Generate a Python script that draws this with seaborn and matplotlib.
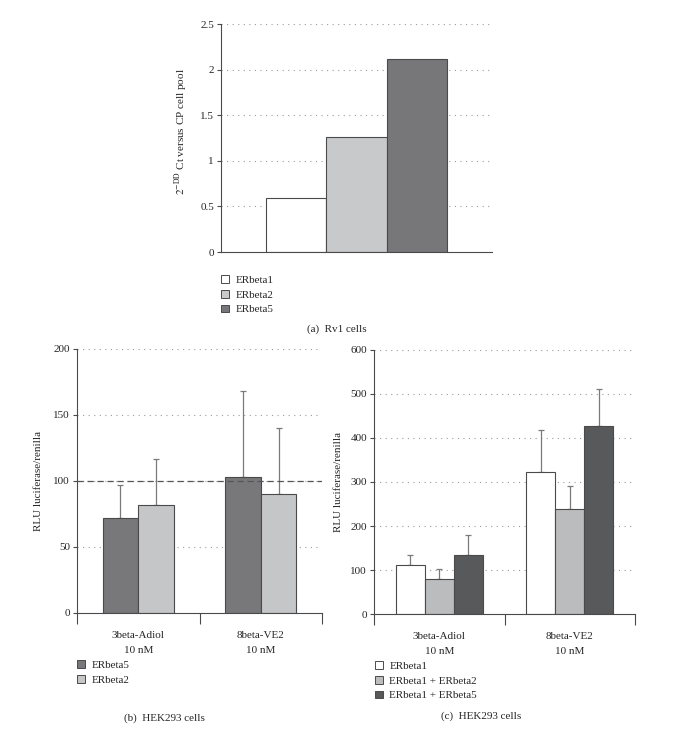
import matplotlib
matplotlib.use("Agg")
import matplotlib.pyplot as plt
from matplotlib.patches import Patch
import numpy as np
import pandas as pd
import seaborn as sns

# ---- data ----
rv1_labels = ["ERbeta1", "ERbeta2", "ERbeta5"]
rv1_values = [0.59, 1.26, 2.12]
rv1_yticks = [0, 0.5, 1, 1.5, 2, 2.5]
rv1_yticklabels = ["0", "0.5", "1", "1.5", "2", "2.5"]

treatments = ["3beta-Adiol\n10 nM", "8beta-VE2\n10 nM"]

hek_b_labels = ["ERbeta5", "ERbeta2"]
hek_b_values = {"ERbeta5": [72, 103], "ERbeta2": [82, 90]}
hek_b_errors = {"ERbeta5": [25, 65], "ERbeta2": [35, 50]}
hek_b_yticks = [0, 50, 100, 150, 200]

hek_c_labels = ["ERbeta1", "ERbeta1 + ERbeta2", "ERbeta1 + ERbeta5"]
hek_c_values = {"ERbeta1": [112, 322], "ERbeta1 + ERbeta2": [80, 238],
                "ERbeta1 + ERbeta5": [135, 427]}
hek_c_errors = {"ERbeta1": [23, 96], "ERbeta1 + ERbeta2": [22, 53],
                "ERbeta1 + ERbeta5": [45, 84]}
hek_c_yticks = [0, 100, 200, 300, 400, 500, 600]

# ---- style ----
sns.set_style("ticks")
plt.rcParams['font.family'] = ['Liberation Serif', 'DejaVu Serif']
plt.rcParams['mathtext.fontset'] = 'stix'
plt.rcParams['font.size'] = 8
EDGE = '#4a4a4a'
GRID = '#9a9a9a'
FS = 8

pal_a = {"ERbeta1": "#ffffff", "ERbeta2": "#c8c9cb", "ERbeta5": "#76777b"}
pal_b = {"ERbeta5": "#77787c", "ERbeta2": "#c5c6c8"}
pal_c = {"ERbeta1": "#ffffff", "ERbeta1 + ERbeta2": "#bbbcbe",
         "ERbeta1 + ERbeta5": "#58595b"}


def style_axis(ax, yticks, yticklabels=None):
    ax.set_yticks(yticks)
    if yticklabels is not None:
        ax.set_yticklabels(yticklabels)
    ax.set_ylim(yticks[0], yticks[-1])
    for y in yticks[1:]:
        ax.axhline(y, color=GRID, lw=0.8, ls=(0, (1, 4)), zorder=0)
    for s in ['top', 'right']:
        ax.spines[s].set_visible(False)
    for s in ['left', 'bottom']:
        ax.spines[s].set_color(EDGE)
        ax.spines[s].set_linewidth(0.8)
    ax.tick_params(axis='y', length=3, width=0.8, color=EDGE, labelsize=FS, pad=2)


def add_errors(ax, labels, errors):
    # upper-only error bars on top of each hue container
    for lab, cont in zip(labels, ax.containers):
        xs = [p.get_x() + p.get_width() / 2 for p in cont.patches]
        hs = [p.get_height() for p in cont.patches]
        err = errors[lab]
        ax.errorbar(xs, hs, yerr=[np.zeros(len(err)), err], fmt='none',
                    ecolor='#7a7a7a', elinewidth=0.9, capsize=2, capthick=0.9, zorder=1)


def group_xaxis(ax):
    ax.set_xlim(-0.5, 1.5)
    ax.set_xticks([-0.5, 0.5, 1.5], minor=True)
    ax.tick_params(axis='x', which='major', length=0, pad=13, labelsize=FS)
    ax.tick_params(axis='x', which='minor', length=8, width=0.8, color=EDGE)
    for t in ax.get_xticklabels():
        t.set_linespacing(1.85)
    ax.set_xlabel("")


def legend(fig, labels, pal, x, y):
    handles = [Patch(facecolor=pal[l], edgecolor=EDGE, lw=0.7) for l in labels]
    fig.legend(handles, labels, loc='upper left', bbox_to_anchor=(x, y),
               frameon=False, fontsize=FS, handlelength=0.7, handleheight=0.7,
               handletextpad=0.6, labelspacing=0.45, borderpad=0, borderaxespad=0)


W, H = 699, 730
fig = plt.figure(figsize=(W / 100, H / 100), dpi=100)

# ---- (a) Rv1 cells ----
ax_a = fig.add_axes([221 / W, 1 - 252 / H, 271 / W, 228 / H])
df_a = pd.DataFrame({"cell": ["Rv1"] * 3, "receptor": rv1_labels, "value": rv1_values})
sns.barplot(data=df_a, x="cell", y="value", hue="receptor", palette=pal_a,
            edgecolor=EDGE, linewidth=0.8, width=0.8, legend=False, ax=ax_a, zorder=2)
ax_a.set_xlim(-0.6, 0.6)
ax_a.set_xticks([])
ax_a.set_xlabel("")
style_axis(ax_a, rv1_yticks, rv1_yticklabels)
ax_a.set_ylabel(r"$2^{-\mathrm{DD}}$ Ct versus CP cell pool", fontsize=FS)
ax_a.yaxis.set_label_coords(-0.115, 0.53)
legend(fig, rv1_labels, pal_a, 221 / W, 1 - 275 / H)
fig.text(337 / W, 1 - 329 / H, "(a)  Rv1 cells", ha='center', va='center', fontsize=FS)

# ---- (b) HEK293 cells ----
ax_b = fig.add_axes([77 / W, 1 - 613 / H, 245 / W, 264 / H])
df_b = pd.DataFrame([(t, l, hek_b_values[l][i]) for l in hek_b_labels
                     for i, t in enumerate(treatments)],
                    columns=["treatment", "receptor", "value"])
sns.barplot(data=df_b, x="treatment", y="value", hue="receptor", hue_order=hek_b_labels,
            palette=pal_b, edgecolor=EDGE, linewidth=0.8, width=0.58, legend=False,
            ax=ax_b, zorder=2)
add_errors(ax_b, hek_b_labels, hek_b_errors)
style_axis(ax_b, hek_b_yticks)
ax_b.axhline(100, color='#555555', lw=0.9, ls=(0, (5, 3)), zorder=3)
group_xaxis(ax_b)
ax_b.set_ylabel("RLU luciferase/renilla", fontsize=FS)
ax_b.yaxis.set_label_coords(-0.14, 0.5)
legend(fig, hek_b_labels, pal_b, 77 / W, 1 - 660 / H)
fig.text(164 / W, 1 - 718 / H, "(b)  HEK293 cells", ha='center', va='center', fontsize=FS)

# ---- (c) HEK293 cells ----
ax_c = fig.add_axes([374 / W, 1 - 614 / H, 261 / W, 264 / H])
df_c = pd.DataFrame([(t, l, hek_c_values[l][i]) for l in hek_c_labels
                     for i, t in enumerate(treatments)],
                    columns=["treatment", "receptor", "value"])
sns.barplot(data=df_c, x="treatment", y="value", hue="receptor", hue_order=hek_c_labels,
            palette=pal_c, edgecolor=EDGE, linewidth=0.8, width=0.67, legend=False,
            ax=ax_c, zorder=2)
add_errors(ax_c, hek_c_labels, hek_c_errors)
style_axis(ax_c, hek_c_yticks)
group_xaxis(ax_c)
ax_c.set_ylabel("RLU luciferase/renilla", fontsize=FS)
ax_c.yaxis.set_label_coords(-0.12, 0.5)
legend(fig, hek_c_labels, pal_c, 375 / W, 1 - 661 / H)
fig.text(481 / W, 1 - 716 / H, "(c)  HEK293 cells", ha='center', va='center', fontsize=FS)

fig.savefig("out.png", dpi=100)
